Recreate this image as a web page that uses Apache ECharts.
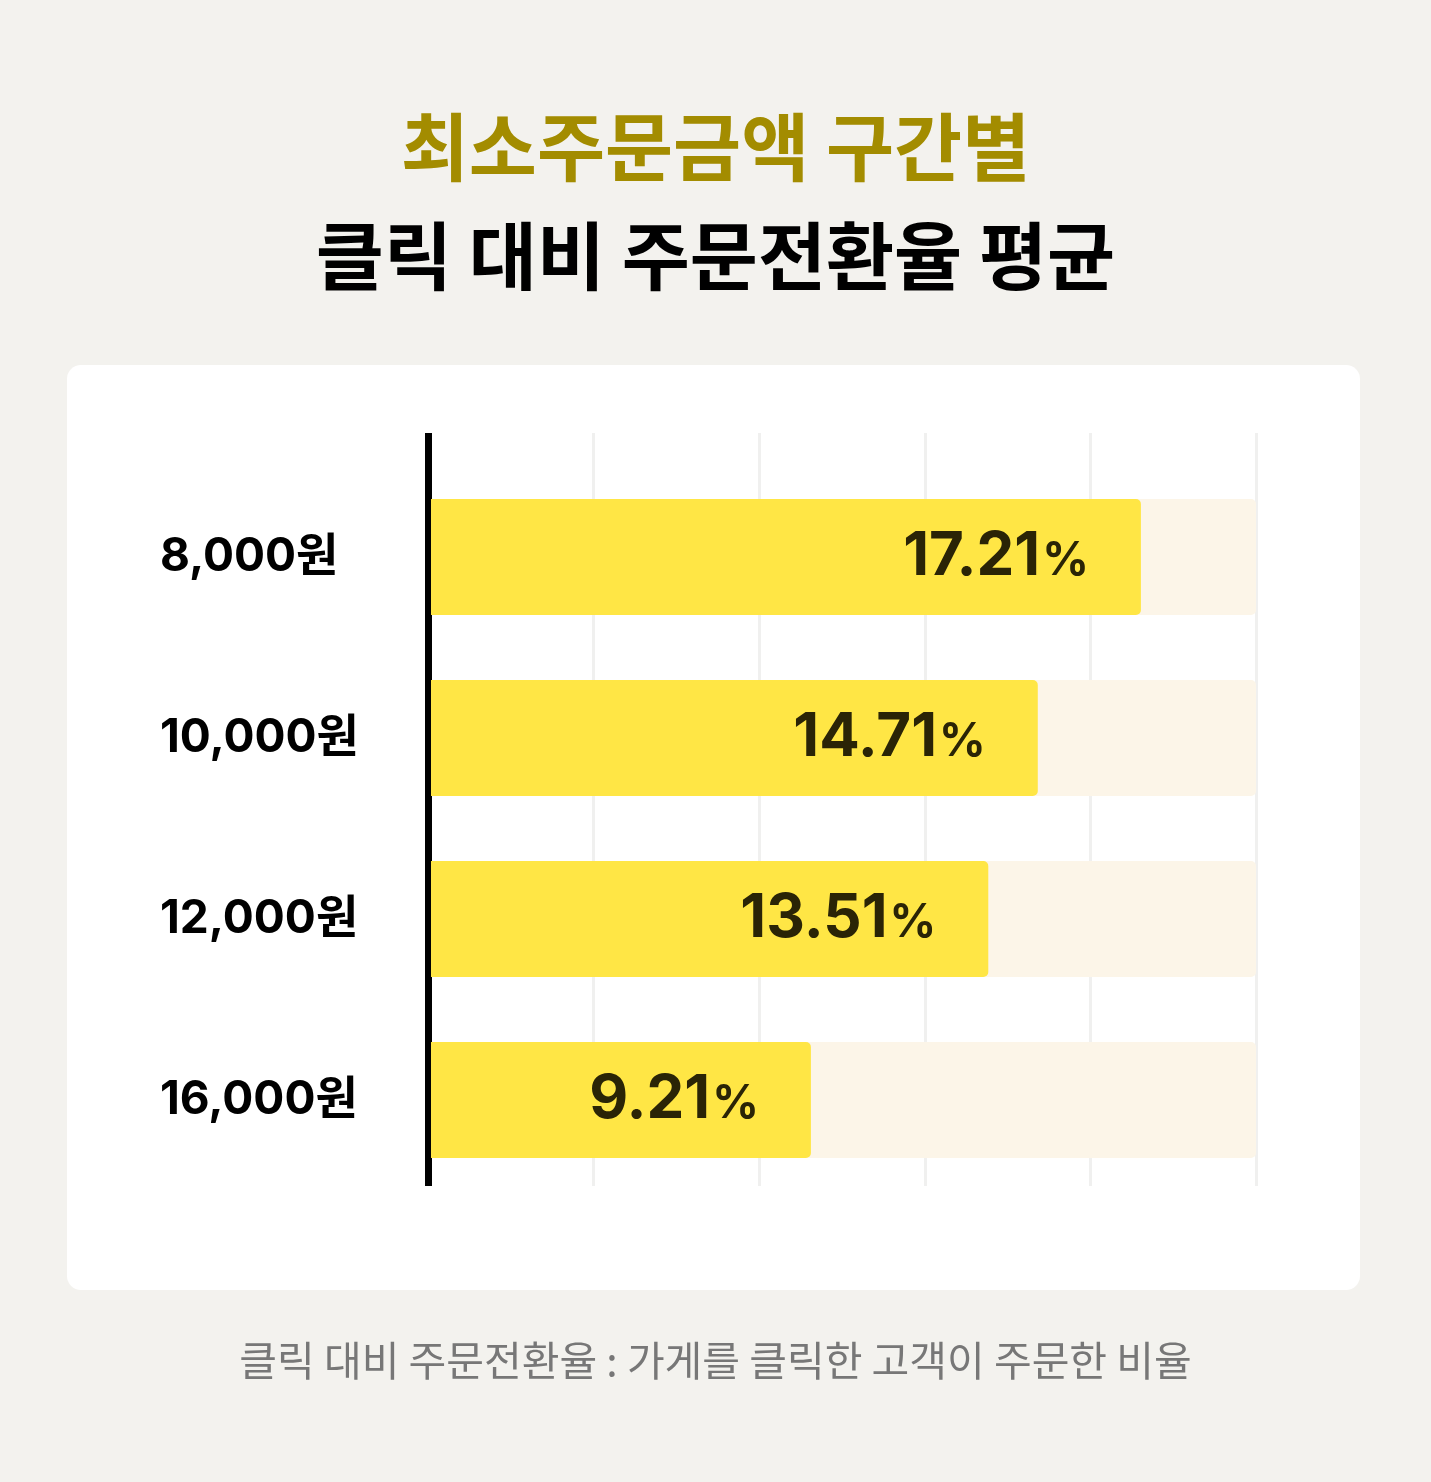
<!DOCTYPE html>
<html>
<head>
<meta charset="utf-8">
<style>
  html, body { margin: 0; padding: 0; background: #f3f2ee; }
  #main { width: 1431px; height: 1482px; }
</style>
<script src="https://cdn.jsdelivr.net/npm/echarts@6/dist/echarts.min.js"></script>
</head>
<body>
<div id="main"></div>
<script>
var categories = ['8,000원', '10,000원', '12,000원', '16,000원'];
var rates = [17.21, 14.71, 13.51, 9.21];
var xTicks = [0, 4, 8, 12, 16, 20];

var chartDom = document.getElementById('main');
var myChart = echarts.init(chartDom);
var option;

var latin = "Inter, 'Noto Sans CJK KR', sans-serif";
var korean = "'Noto Sans CJK KR', sans-serif";

option = {
  backgroundColor: '#f3f2ee',
  title: [
    {
      text: '최소주문금액 구간별',
      left: 'center',
      top: 105,
      textStyle: { fontFamily: korean, fontSize: 74, fontWeight: 'bold', color: '#a38c00' }
    },
    {
      text: '클릭 대비 주문전환율 평균',
      left: 'center',
      top: 214,
      textStyle: { fontFamily: korean, fontSize: 74, fontWeight: 'bold', color: '#000' }
    },
    {
      text: '클릭 대비 주문전환율 : 가게를 클릭한 고객이 주문한 비율',
      left: 'center',
      top: 1335,
      textStyle: { fontFamily: korean, fontSize: 41, fontWeight: 'normal', color: '#777' }
    }
  ],
  graphic: [
    {
      type: 'rect',
      z: -10,
      shape: { x: 67, y: 365, width: 1293, height: 925, r: 14 },
      style: { fill: '#fff' }
    }
  ],
  grid: [
    { left: 431, width: 825, top: 466.5, height: 724 },
    { left: 428, width: 828, top: 433, height: 753 }
  ],
  xAxis: [
    {
      gridIndex: 0, type: 'value',
      min: xTicks[0], max: xTicks[xTicks.length - 1], interval: xTicks[1] - xTicks[0],
      axisLine: { show: false }, axisTick: { show: false },
      axisLabel: { show: false }, splitLine: { show: false }
    },
    {
      gridIndex: 1, type: 'value',
      min: xTicks[0], max: xTicks[xTicks.length - 1], interval: xTicks[1] - xTicks[0],
      axisLine: { show: false }, axisTick: { show: false },
      axisLabel: { show: false },
      splitLine: { show: true, lineStyle: { color: '#f0f0ef', width: 3 } }
    }
  ],
  yAxis: [
    {
      gridIndex: 0, type: 'category', inverse: true,
      data: categories,
      axisLine: { show: false }, axisTick: { show: false },
      axisLabel: {
        align: 'left', margin: 271,
        fontFamily: latin, fontSize: 46, fontWeight: 'bold', color: '#000'
      }
    },
    {
      gridIndex: 1, type: 'value', min: 0, max: 1,
      axisLine: { show: true, lineStyle: { color: '#000', width: 7, cap: 'butt' } },
      axisTick: { show: false }, axisLabel: { show: false }, splitLine: { show: false }
    }
  ],
  series: [
    {
      type: 'bar',
      xAxisIndex: 0,
      yAxisIndex: 0,
      data: rates,
      barWidth: 116,
      showBackground: true,
      backgroundStyle: { color: '#fcf5e8', borderRadius: [0, 5, 5, 0] },
      itemStyle: { color: '#ffe645', borderRadius: [0, 5, 5, 0] },
      label: {
        show: true,
        position: 'insideRight',
        distance: 52,
        formatter: function (p) {
          return '{v|' + p.value.toFixed(2) + '}{p|%}';
        },
        rich: {
          v: { fontFamily: latin, fontSize: 60, fontWeight: 'bold', color: '#2a2406', verticalAlign: 'bottom', lineHeight: 60, padding: [6, 0, 0, 0] },
          p: { fontFamily: latin, fontSize: 46, fontWeight: 'bold', color: '#2a2406', verticalAlign: 'bottom', lineHeight: 46, padding: [0, 0, 3, 2] }
        }
      }
    }
  ]
};

if (chartDom && myChart) {
  myChart.setOption(option);
} else {
  console.error('Failed to initialize the chart');
}
</script>
</body>
</html>
